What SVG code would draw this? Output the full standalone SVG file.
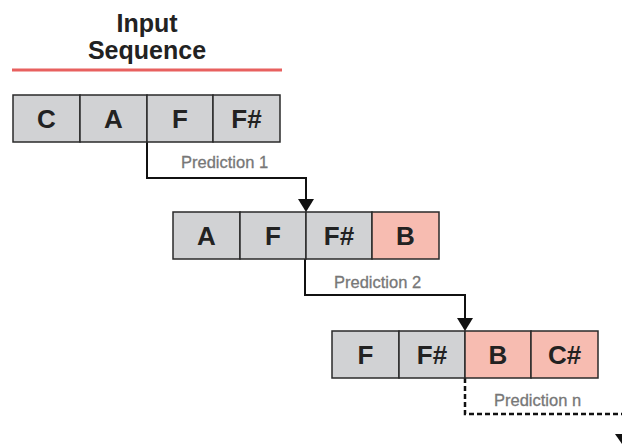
<svg xmlns="http://www.w3.org/2000/svg" width="622" height="446" viewBox="0 0 622 446">
<defs>
<style>
.cell{stroke:#2a2a2a;stroke-width:1.5}
.g{fill:#d1d2d4}
.p{fill:#f7bcb1}
.lbl{font-family:"Liberation Sans",Arial,sans-serif;font-weight:bold;font-size:26px;fill:#222;text-anchor:middle}
.title{font-family:"Liberation Sans",Arial,sans-serif;font-weight:bold;font-size:25px;fill:#222;text-anchor:middle}
.pred{font-family:"Liberation Sans",Arial,sans-serif;font-size:16.5px;fill:#777;stroke:#777;stroke-width:0.3}
.wire{fill:none;stroke:#111;stroke-width:2}
.dash{fill:none;stroke:#111;stroke-width:2.5;stroke-dasharray:5 3}
</style>
</defs>
<rect width="622" height="446" fill="#fff"/>
<g id="title">
<text class="title" x="147" y="32">Input</text>
<text class="title" x="147" y="59">Sequence</text>
<line x1="12" y1="70" x2="282" y2="70" stroke="#e8605f" stroke-width="3"/>
</g>
<g id="connectors">
<polyline class="wire" points="147,142 147,178 306,178 306,199"/>
<path d="M298,199 L314,199 L306,212 Z" fill="#111"/>
<polyline class="wire" points="305,259 305,295 465,295 465,318"/>
<path d="M457,318 L473,318 L465,331 Z" fill="#111"/>
<polyline class="dash" points="465,378 465,414 622,414"/>
<path d="M615,434 L633,434 L624,447 Z" fill="#111"/>
<text class="pred" x="181" y="168">Prediction 1</text>
<text class="pred" x="334" y="288">Prediction 2</text>
<text class="pred" x="494" y="406">Prediction n</text>
</g>
<g id="seq1">
<rect class="cell g" x="13" y="95" width="67" height="47"/>
<rect class="cell g" x="80" y="95" width="67" height="47"/>
<rect class="cell g" x="147" y="95" width="66" height="47"/>
<rect class="cell g" x="213" y="95" width="67" height="47"/>
<text class="lbl" x="46.5" y="128">C</text>
<text class="lbl" x="113.5" y="128">A</text>
<text class="lbl" x="180" y="128">F</text>
<text class="lbl" x="246.5" y="128">F#</text>
</g>
<g id="seq2">
<rect class="cell g" x="173" y="212" width="67" height="47"/>
<rect class="cell g" x="240" y="212" width="66" height="47"/>
<rect class="cell g" x="306" y="212" width="66" height="47"/>
<rect class="cell p" x="372" y="212" width="67" height="47"/>
<text class="lbl" x="206.5" y="245">A</text>
<text class="lbl" x="273" y="245">F</text>
<text class="lbl" x="339" y="245">F#</text>
<text class="lbl" x="405.5" y="245">B</text>
</g>
<g id="seq3">
<rect class="cell g" x="332" y="331" width="67" height="47"/>
<rect class="cell g" x="399" y="331" width="66" height="47"/>
<rect class="cell p" x="465" y="331" width="66" height="47"/>
<rect class="cell p" x="531" y="331" width="67" height="47"/>
<text class="lbl" x="365.5" y="364">F</text>
<text class="lbl" x="432" y="364">F#</text>
<text class="lbl" x="498" y="364">B</text>
<text class="lbl" x="564.5" y="364">C#</text>
</g>
</svg>
